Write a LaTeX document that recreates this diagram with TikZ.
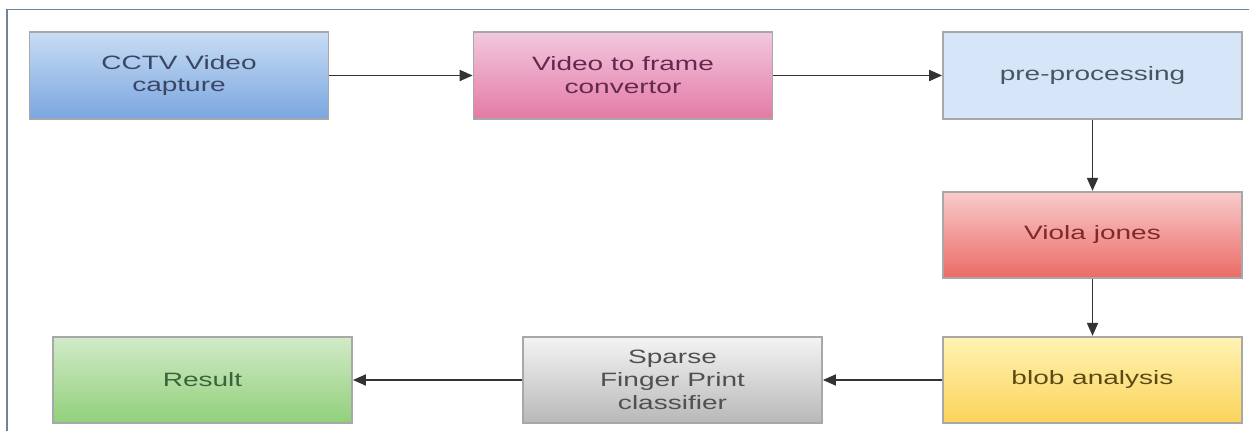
\documentclass[tikz,border=0pt]{standalone}
\usepackage{fontspec}
\setmainfont[FakeStretch=1.45]{Liberation Sans}
\usetikzlibrary{arrows.meta}
\definecolor{framec}{HTML}{6F8497}
\definecolor{boxline}{HTML}{A8A8A8}
\definecolor{arrowc}{HTML}{333333}
\tikzset{
  box/.style={rectangle, draw=boxline, line width=0.35mm, minimum width=59.8mm, minimum height=17.3mm,
    align=center, inner sep=1mm, font=\fontsize{11}{13}\selectfont},
  flow/.style={draw=arrowc, line width=0.36mm, -{Triangle[length=2.6mm,width=2.2mm]}},
}
\begin{document}
\begin{tikzpicture}[x=0.2mm,y=-0.2mm]
\useasboundingbox (0,0) rectangle (1249,431);
\draw[framec, line width=0.35mm] (7,431) -- (7,9.5) -- (1249,9.5);
\node[box, top color={rgb,255:red,200;green,220;blue,244}, bottom color={rgb,255:red,122;green,166;blue,224}, text={rgb,255:red,58;green,70;blue,100}] (cctv) at (179,75.5) {CCTV Video\\capture};
\node[box, top color={rgb,255:red,242;green,200;blue,222}, bottom color={rgb,255:red,228;green,122;blue,166}, text={rgb,255:red,100;green,40;blue,78}] (vtf) at (623,75.5) {Video to frame\\convertor};
\node[box, fill={rgb,255:red,214;green,230;blue,248}, text={rgb,255:red,72;green,84;blue,100}] (pre) at (1092.5,75.5) {pre-processing};
\node[box, top color={rgb,255:red,248;green,204;blue,204}, bottom color={rgb,255:red,236;green,106;blue,100}, text={rgb,255:red,130;green,40;blue,40}] (viola) at (1092.5,235) {Viola jones};
\node[box, top color={rgb,255:red,255;green,243;blue,180}, bottom color={rgb,255:red,252;green,211;blue,90}, text={rgb,255:red,90;green,74;blue,20}] (blob) at (1092.5,380) {blob analysis};
\node[box, top color={rgb,255:red,244;green,244;blue,244}, bottom color={rgb,255:red,184;green,184;blue,184}, text={rgb,255:red,80;green,80;blue,80}] (sparse) at (672.5,380) {Sparse\\Finger Print\\classifier};
\node[box, top color={rgb,255:red,210;green,234;blue,200}, bottom color={rgb,255:red,144;green,208;blue,122}, text={rgb,255:red,60;green,100;blue,60}] (result) at (202.5,380) {Result};
\draw[flow] (cctv.east) -- (vtf.west);
\draw[flow] (vtf.east) -- (pre.west);
\draw[flow] (pre.south) -- (viola.north);
\draw[flow] (viola.south) -- (blob.north);
\draw[flow] (blob.west) -- (sparse.east);
\draw[flow] (sparse.west) -- (result.east);
\end{tikzpicture}
\end{document}
